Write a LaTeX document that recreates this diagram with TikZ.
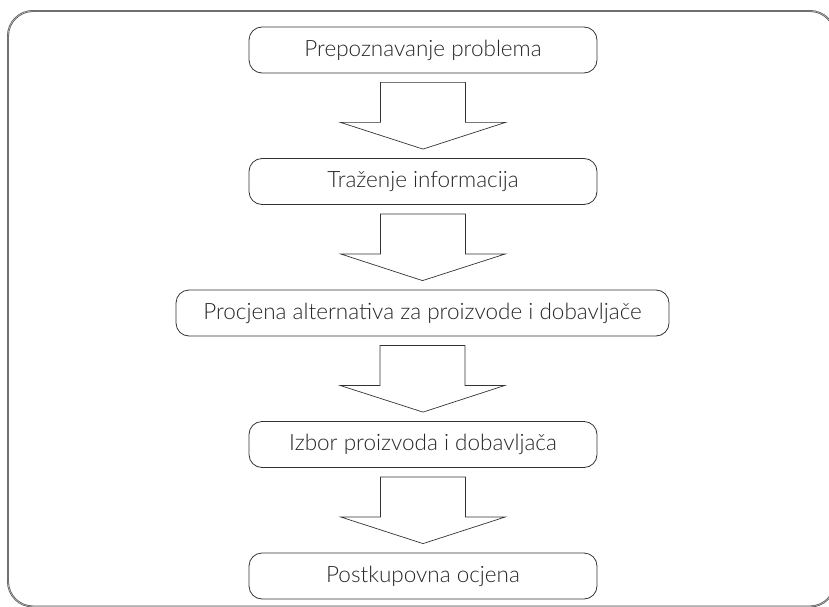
\documentclass[tikz,border=0pt]{standalone}
\usepackage{fontspec}
\setmainfont{Lato}[UprightFont={* Light}]
\usepackage{tikz}
\usetikzlibrary{calc}
\tikzset{
    stage/.style={rectangle, rounded corners=13pt, draw=black!80, line width=0.8pt, minimum width=348pt, minimum height=46pt, inner sep=0pt, text=black!85, font=\fontsize{22.5}{26}\selectfont},
    wide stage/.style={stage, minimum width=493pt},
    block arrow/.style={draw=black!80, line width=0.7pt, fill=white, line join=miter},
    frame/.style={draw=black!70, double=black!30, double distance=0.7pt, line width=0.6pt, rounded corners=25pt}
}
% block arrow from the bottom of one stage to the top of the next
\newcommand{\stagearrow}[2]{%
    \draw[block arrow] ($(#1.south)+(-42.5,9)$) -- ++(0,40) -- ++(-40,0)
        -- ($(#2.north)+(0,-9)$) -- ($(#1.south)+(82.5,49)$) -- ++(-40,0) -- ++(0,-40) -- cycle;}

\begin{document}
\begin{tikzpicture}[x=1pt, y=-1pt]
    \useasboundingbox (0,0) rectangle (829,607);
    \clip (0,0) rectangle (829,607);

    % Outer frame
    \draw[frame] (8,11) rectangle (835,606.5);

    % Stages of the buying process
    \node[stage] (recog) at (423,50) {Prepoznavanje problema};
    \node[stage] (search) at (423,181.5) {Traženje informacija};
    \node[wide stage] (eval) at (422.5,313) {Procjena alternativa za proizvode i dobavljače};
    \node[stage] (choice) at (423,444.5) {Izbor proizvoda i dobavljača};
    \node[stage] (post) at (423,576) {Postkupovna ocjena};

    % Block arrows between stages
    \stagearrow{recog}{search}
    \stagearrow{search}{eval}
    \stagearrow{eval}{choice}
    \stagearrow{choice}{post}
\end{tikzpicture}
\end{document}
